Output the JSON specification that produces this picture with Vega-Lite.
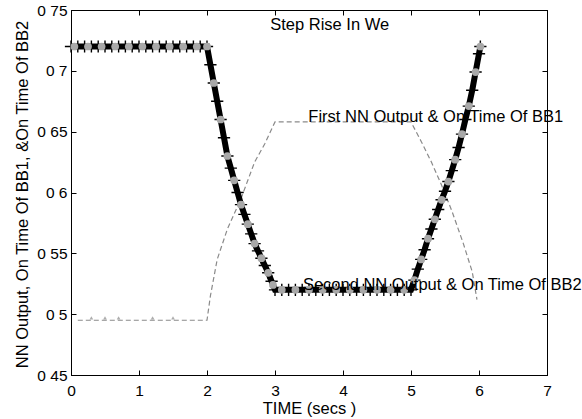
{
  "$schema": "https://vega.github.io/schema/vega-lite/v6.json",
  "width": 476,
  "height": 365,
  "autosize": {"type": "none"},
  "padding": {"left": 71, "top": 10, "right": 35, "bottom": 44},
  "background": "white",
  "config": {
    "view": {"stroke": "black", "strokeWidth": 1},
    "font": "Liberation Sans",
    "axis": {"grid": false, "domainColor": "black", "tickColor": "black", "labelColor": "black", "titleColor": "black", "labelFont": "Liberation Sans", "titleFont": "Liberation Sans", "labelFontSize": 15.5, "titleFontSize": 16.5, "titleFontWeight": "normal"}
  },
  "datasets": {
    "bb2": [
      {"t": 0, "v": 0.72}, {"t": 0.1, "v": 0.72}, {"t": 0.2, "v": 0.72}, {"t": 0.3, "v": 0.72}, {"t": 0.4, "v": 0.72}, {"t": 0.5, "v": 0.72}, {"t": 0.6, "v": 0.72}, {"t": 0.7, "v": 0.72}, {"t": 0.8, "v": 0.72}, {"t": 0.9, "v": 0.72}, {"t": 1.0, "v": 0.72}, {"t": 1.1, "v": 0.72}, {"t": 1.2, "v": 0.72}, {"t": 1.3, "v": 0.72}, {"t": 1.4, "v": 0.72}, {"t": 1.5, "v": 0.72}, {"t": 1.6, "v": 0.72}, {"t": 1.7, "v": 0.72}, {"t": 1.8, "v": 0.72}, {"t": 1.9, "v": 0.72}, {"t": 2.0, "v": 0.72},
      {"t": 2.05, "v": 0.705}, {"t": 2.1, "v": 0.69}, {"t": 2.15, "v": 0.675}, {"t": 2.2, "v": 0.66}, {"t": 2.25, "v": 0.645}, {"t": 2.3, "v": 0.63}, {"t": 2.35, "v": 0.62}, {"t": 2.4, "v": 0.61}, {"t": 2.45, "v": 0.6}, {"t": 2.5, "v": 0.59}, {"t": 2.55, "v": 0.582}, {"t": 2.6, "v": 0.574}, {"t": 2.65, "v": 0.566}, {"t": 2.7, "v": 0.558}, {"t": 2.75, "v": 0.552}, {"t": 2.8, "v": 0.546}, {"t": 2.85, "v": 0.54}, {"t": 2.9, "v": 0.534}, {"t": 2.95, "v": 0.527}, {"t": 3.0, "v": 0.52},
      {"t": 3.1, "v": 0.52}, {"t": 3.2, "v": 0.52}, {"t": 3.3, "v": 0.52}, {"t": 3.4, "v": 0.52}, {"t": 3.5, "v": 0.52}, {"t": 3.6, "v": 0.52}, {"t": 3.7, "v": 0.52}, {"t": 3.8, "v": 0.52}, {"t": 3.9, "v": 0.52}, {"t": 4.0, "v": 0.52}, {"t": 4.1, "v": 0.52}, {"t": 4.2, "v": 0.52}, {"t": 4.3, "v": 0.52}, {"t": 4.4, "v": 0.52}, {"t": 4.5, "v": 0.52}, {"t": 4.6, "v": 0.52}, {"t": 4.7, "v": 0.52}, {"t": 4.8, "v": 0.52}, {"t": 4.9, "v": 0.52}, {"t": 5.0, "v": 0.52},
      {"t": 5.05, "v": 0.528}, {"t": 5.1, "v": 0.537}, {"t": 5.15, "v": 0.545}, {"t": 5.2, "v": 0.553}, {"t": 5.25, "v": 0.562}, {"t": 5.3, "v": 0.57}, {"t": 5.35, "v": 0.578}, {"t": 5.4, "v": 0.586}, {"t": 5.45, "v": 0.594}, {"t": 5.5, "v": 0.601}, {"t": 5.55, "v": 0.609}, {"t": 5.6, "v": 0.618}, {"t": 5.65, "v": 0.627}, {"t": 5.7, "v": 0.637}, {"t": 5.75, "v": 0.648}, {"t": 5.8, "v": 0.66}, {"t": 5.85, "v": 0.671}, {"t": 5.9, "v": 0.684}, {"t": 5.95, "v": 0.699}, {"t": 6.0, "v": 0.714}, {"t": 6.02, "v": 0.72}
    ],
    "bb2o": [
      {"t": 0.05, "v": 0.72}, {"t": 0.25, "v": 0.72}, {"t": 0.45, "v": 0.72}, {"t": 0.65, "v": 0.72}, {"t": 0.85, "v": 0.72}, {"t": 1.05, "v": 0.72}, {"t": 1.25, "v": 0.72}, {"t": 1.45, "v": 0.72}, {"t": 1.65, "v": 0.72}, {"t": 1.85, "v": 0.72}, {"t": 2.0, "v": 0.72},
      {"t": 2.1, "v": 0.69}, {"t": 2.2, "v": 0.66}, {"t": 2.3, "v": 0.63}, {"t": 2.4, "v": 0.61}, {"t": 2.5, "v": 0.59}, {"t": 2.6, "v": 0.574}, {"t": 2.7, "v": 0.558}, {"t": 2.8, "v": 0.546}, {"t": 2.9, "v": 0.534}, {"t": 2.97, "v": 0.524},
      {"t": 3.1, "v": 0.52}, {"t": 3.3, "v": 0.52}, {"t": 3.5, "v": 0.52}, {"t": 3.7, "v": 0.52}, {"t": 3.9, "v": 0.52}, {"t": 4.1, "v": 0.52}, {"t": 4.3, "v": 0.52}, {"t": 4.5, "v": 0.52}, {"t": 4.7, "v": 0.52}, {"t": 4.9, "v": 0.52},
      {"t": 5.05, "v": 0.528}, {"t": 5.15, "v": 0.545}, {"t": 5.25, "v": 0.562}, {"t": 5.35, "v": 0.578}, {"t": 5.45, "v": 0.594}, {"t": 5.55, "v": 0.609}, {"t": 5.65, "v": 0.627}, {"t": 5.75, "v": 0.648}, {"t": 5.85, "v": 0.671}, {"t": 5.95, "v": 0.699}, {"t": 6.02, "v": 0.72}
    ],
    "bb1": [
      {"t": 0.1, "v": 0.495}, {"t": 2.0, "v": 0.495}, {"t": 2.05, "v": 0.515}, {"t": 2.15, "v": 0.545}, {"t": 2.3, "v": 0.57}, {"t": 2.5, "v": 0.595}, {"t": 2.7, "v": 0.625}, {"t": 2.85, "v": 0.64}, {"t": 3.0, "v": 0.658}, {"t": 5.0, "v": 0.658}, {"t": 5.15, "v": 0.642}, {"t": 5.3, "v": 0.625}, {"t": 5.45, "v": 0.606}, {"t": 5.6, "v": 0.585}, {"t": 5.77, "v": 0.558}, {"t": 5.9, "v": 0.535}, {"t": 5.97, "v": 0.512}
    ],
    "bb1marks": [
      {"t": 0.3, "v": 0.497}, {"t": 0.5, "v": 0.497}, {"t": 0.7, "v": 0.497}, {"t": 1.2, "v": 0.497}, {"t": 1.5, "v": 0.497}
    ],
    "notes": [
      {"t": 2.93, "v": 0.738, "label": "Step Rise In We"},
      {"t": 3.49, "v": 0.662, "label": "First NN Output & On Time Of BB1"},
      {"t": 3.41, "v": 0.524, "label": "Second NN Output & On Time Of BB2"}
    ]
  },
  "resolve": {"axis": {"x": "independent", "y": "independent"}},
  "layer": [
    {
      "data": {"name": "bb1"},
      "mark": {"type": "line", "color": "#8a8a8a", "strokeWidth": 1.2, "strokeDash": [5, 3]},
      "encoding": {
        "x": {"field": "t", "type": "quantitative", "scale": {"domain": [0, 7], "nice": false},
          "axis": {"orient": "bottom", "values": [0, 1, 2, 3, 4, 5, 6, 7], "tickSize": -5, "labelPadding": 13, "title": "TIME (secs )", "titleY": 33, "titleBaseline": "middle", "labelFlush": false}},
        "y": {"field": "v", "type": "quantitative", "scale": {"domain": [0.45, 0.75], "nice": false, "zero": false},
          "axis": {"orient": "left", "values": [0.45, 0.5, 0.55, 0.6, 0.65, 0.7, 0.75], "tickSize": -5, "labelPadding": 9, "labelExpr": "replace(format(datum.value, '~g'), '.', ' ')", "labelFlush": false,
            "title": "NN Output, On Time Of BB1, &On Time Of BB2", "titleLimit": 1000, "titleX": -49, "titleY": 184, "titleAngle": -90, "titleAlign": "center", "titleBaseline": "middle"}}
      }
    },
    {
      "data": {"name": "bb1marks"},
      "mark": {"type": "point", "shape": "triangle-up", "filled": true, "color": "#8a8a8a", "size": 14},
      "encoding": {
        "x": {"field": "t", "type": "quantitative", "axis": {"orient": "top", "values": [0, 1, 2, 3, 4, 5, 6, 7], "tickSize": -5, "labels": false, "title": null}},
        "y": {"field": "v", "type": "quantitative", "axis": {"orient": "right", "values": [0.45, 0.5, 0.55, 0.6, 0.65, 0.7, 0.75], "tickSize": -5, "labels": false, "title": null}}
      }
    },
    {
      "data": {"name": "bb2"},
      "mark": {"type": "line", "color": "black", "strokeWidth": 6},
      "encoding": {
        "x": {"field": "t", "type": "quantitative", "axis": null},
        "y": {"field": "v", "type": "quantitative", "axis": null}
      }
    },
    {
      "data": {"name": "bb2"},
      "mark": {"type": "point", "shape": "M -1 0 L 1 0 M 0 -1 L 0 1", "filled": false, "color": "black", "strokeWidth": 1.4, "size": 150, "opacity": 1},
      "encoding": {
        "x": {"field": "t", "type": "quantitative", "axis": null},
        "y": {"field": "v", "type": "quantitative", "axis": null}
      }
    },
    {
      "data": {"name": "bb2o"},
      "mark": {"type": "point", "shape": "circle", "filled": true, "color": "#a8a8a8", "size": 60, "opacity": 1},
      "encoding": {
        "x": {"field": "t", "type": "quantitative", "axis": null},
        "y": {"field": "v", "type": "quantitative", "axis": null}
      }
    },
    {
      "data": {"name": "notes"},
      "mark": {"type": "text", "align": "left", "baseline": "middle", "font": "Liberation Sans", "fontSize": 16.5, "color": "black"},
      "encoding": {
        "x": {"field": "t", "type": "quantitative", "axis": null},
        "y": {"field": "v", "type": "quantitative", "axis": null},
        "text": {"field": "label"}
      }
    }
  ]
}
